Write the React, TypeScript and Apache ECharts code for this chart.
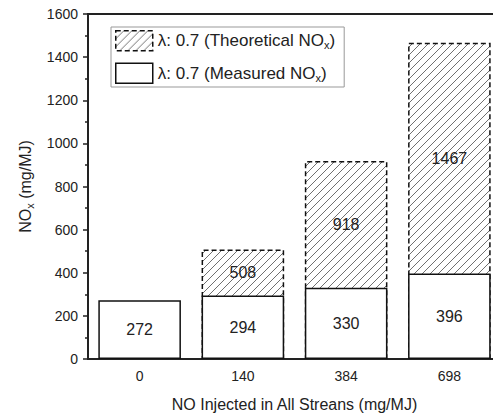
import React, { useEffect, useRef } from "react";
import * as echarts from "echarts";

// NO injected in all streams (mg/MJ)
const categories = ["0", "140", "384", "698"];
// Measured NOx (mg/MJ)
const measured = [272, 294, 330, 396];
// Theoretical NOx (mg/MJ); no theoretical value for the baseline case
const theoretical: (number | null)[] = [null, 508, 918, 1467];

const yTicks = { min: 0, max: 1600, interval: 200 };

const theoName = "λ: 0.7 (Theoretical NOx)";
const measName = "λ: 0.7 (Measured NOx)";

const FONT = "Liberation Sans, Arial, sans-serif";

function makeHatch(): HTMLCanvasElement {
  const c = document.createElement("canvas");
  const s = 8;
  c.width = s;
  c.height = s;
  const ctx = c.getContext("2d")!;
  ctx.fillStyle = "#ffffff";
  ctx.fillRect(0, 0, s, s);
  ctx.strokeStyle = "#707070";
  ctx.lineWidth = 1;
  ctx.beginPath();
  ctx.moveTo(0, s);
  ctx.lineTo(s, 0);
  ctx.moveTo(-2, 2);
  ctx.lineTo(2, -2);
  ctx.moveTo(s - 2, s + 2);
  ctx.lineTo(s + 2, s - 2);
  ctx.stroke();
  return c;
}

export default function App() {
  const ref = useRef<HTMLDivElement>(null);

  useEffect(() => {
    if (!ref.current) return;
    const chart = echarts.init(ref.current, undefined, { renderer: "svg" });
    const hatch = makeHatch();
    const hatchFill = { image: hatch, repeat: "repeat", imageWidth: 8, imageHeight: 8 };

    const theoStyle = {
      color: hatchFill,
      borderColor: "#111",
      borderWidth: 1.5,
      borderType: [5, 3],
    };
    const measStyle = {
      color: "#fff",
      borderColor: "#111",
      borderWidth: 1.5,
    };

    const theoData = theoretical.map((t, i) => {
      if (t == null) return "-";
      const m = measured[i];
      const pct = ((t - m) / (2 * t)) * 100;
      return {
        value: t,
        label: { position: ["50%", pct + "%"] },
      };
    });

    const sub = (name: string) => {
      const base = name.replace(/NOx\)$/, "");
      return `{n|${base}NO}{s|x}{n|)}`;
    };

    chart.setOption({
      animation: false,
      textStyle: { fontFamily: FONT },
      grid: {
        left: 88,
        top: 14,
        width: 417,
        bottom: 57,
        show: true,
        borderColor: "#222",
        borderWidth: 2,
        backgroundColor: "transparent",
      },
      legend: {
        orient: "vertical",
        left: 111,
        top: 27,
        padding: [3, 9, 3, 4],
        itemWidth: 37,
        itemHeight: 20,
        itemGap: 11,
        borderColor: "#999",
        borderWidth: 1,
        backgroundColor: "#fff",
        icon: "rect",
        data: [
          { name: theoName, itemStyle: theoStyle },
          { name: measName, itemStyle: measStyle },
        ],
        formatter: (name: string) => sub(name),
        textStyle: {
          color: "#222",
          rich: {
            n: { fontSize: 17, fontFamily: FONT, color: "#222", lineHeight: 20 },
            s: { fontSize: 11, fontFamily: FONT, color: "#222", lineHeight: 20, verticalAlign: "bottom", padding: [7, 0, 0, 0] },
          },
        },
      },
      xAxis: [
        {
          type: "category",
          data: categories,
          position: "bottom",
          axisLine: { lineStyle: { color: "#222", width: 2 } },
          axisTick: { alignWithLabel: true, length: 5, lineStyle: { color: "#222", width: 1.5 } },
          axisLabel: { fontSize: 14, color: "#222", margin: 10, fontFamily: FONT },
          name: "NO Injected in All Streans (mg/MJ)",
          nameLocation: "middle",
          nameGap: 37,
          nameTextStyle: { fontSize: 16, color: "#222", fontFamily: FONT },
        },
        {
          type: "category",
          data: categories,
          position: "bottom",
          offset: 0,
          axisLine: { show: false },
          axisTick: { length: 3, lineStyle: { color: "#222", width: 1.5 } },
          axisLabel: { show: false },
        },
      ],
      yAxis: {
        type: "value",
        min: yTicks.min,
        max: yTicks.max,
        interval: yTicks.interval,
        axisLine: { show: true, lineStyle: { color: "#222", width: 2 } },
        axisTick: { show: true, length: 5, lineStyle: { color: "#222", width: 1.5 } },
        minorTick: { show: true, splitNumber: 2, length: 3, lineStyle: { color: "#222", width: 1.5 } },
        splitLine: { show: false },
        axisLabel: {
          fontSize: 14,
          color: "#222",
          margin: 10,
          fontFamily: FONT,
          formatter: (v: number) => String(v),
        },
        name: "{n|NO}{s|x}{n| (mg/MJ)}",
        nameLocation: "middle",
        nameGap: 40,
        nameRotate: 90,
        nameTextStyle: {
          color: "#222",
          rich: {
            n: { fontSize: 16, fontFamily: FONT, color: "#222", lineHeight: 20 },
            s: { fontSize: 11, fontFamily: FONT, color: "#222", lineHeight: 20, verticalAlign: "bottom", padding: [7, 0, 0, 0] },
          },
        },
      },
      series: [
        {
          name: theoName,
          type: "bar",
          xAxisIndex: 0,
          barWidth: "80%",
          barGap: "-100%",
          data: theoData,
          itemStyle: theoStyle,
          label: {
            show: true,
            align: "center",
            verticalAlign: "middle",
            fontSize: 16,
            color: "#222",
            fontFamily: FONT,
          },
          z: 1,
        },
        {
          name: measName,
          type: "bar",
          xAxisIndex: 0,
          barWidth: "80%",
          barGap: "-100%",
          data: measured,
          itemStyle: measStyle,
          label: {
            show: true,
            position: "inside",
            fontSize: 16,
            color: "#222",
            fontFamily: FONT,
          },
          z: 2,
        },
      ],
    });

    return () => chart.dispose();
  }, []);

  return <div ref={ref} style={{ width: 501, height: 417, marginLeft: -8, marginTop: -8 }} />;
}
